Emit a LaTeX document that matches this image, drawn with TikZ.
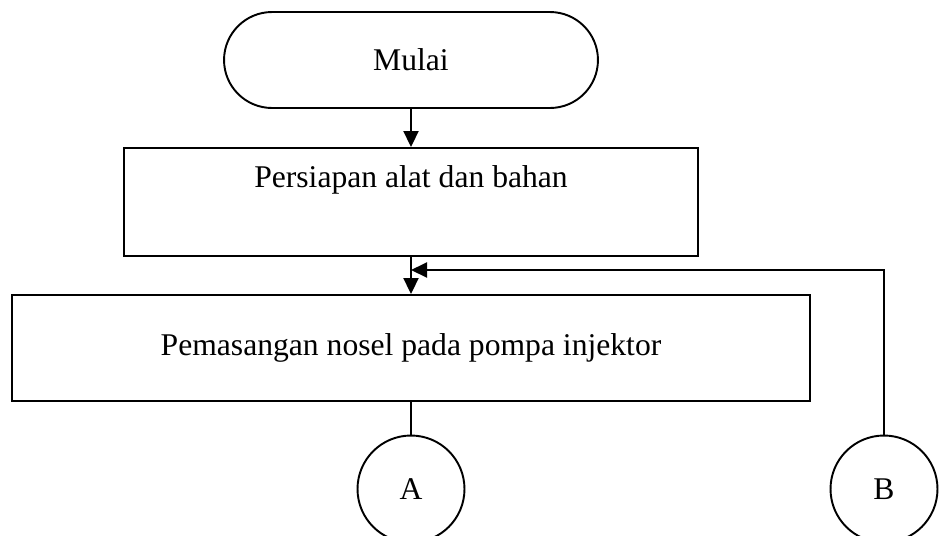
\documentclass[tikz,border=0pt]{standalone}
\usepackage{fontspec}
\setmainfont{Liberation Serif}
\usetikzlibrary{arrows.meta,shapes.misc}

\tikzset{
  box/.style={draw, line width=1.1pt, inner sep=0pt},
  flow/.style={line width=1.1pt, -{Triangle[length=0.32cm,width=0.3cm]}},
  link/.style={line width=1.1pt},
  conn/.style={draw, circle, line width=1.1pt, inner sep=0pt, minimum size=2.14cm},
}

\begin{document}
\begin{tikzpicture}[x=0.02cm, y=-0.02cm, font=\fontsize{18}{21}\selectfont]
    \clip (0, 0) rectangle (940, 535);
    \node [box, rounded rectangle, minimum width=7.48cm, minimum height=1.92cm] (mulai) at (411, 60) {Mulai};
    \node [box, rectangle, minimum width=11.48cm, minimum height=2.16cm] (persiapan) at (411, 202) {};
    \node (persiapantext) at (411, 180) {Persiapan alat dan bahan};
    \node [box, rectangle, minimum width=15.96cm, minimum height=2.12cm] (pemasangan) at (411, 348) {Pemasangan nosel pada pompa injektor};
    \node [conn] (a) at (411, 489) {A};
    \node [conn] (b) at (884, 489) {B};
    \coordinate (merge) at (411, 270);
    \draw [flow] (mulai) -- (persiapan);
    \draw [flow] (persiapan) -- (pemasangan);
    \draw [flow] (b) |- (merge);
    \draw [link] (pemasangan) -- (a);
  \end{tikzpicture}
\end{document}
